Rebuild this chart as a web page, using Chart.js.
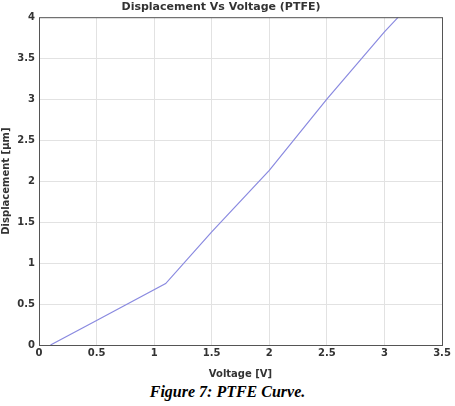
<!DOCTYPE html>
<html>
<head>
<meta charset="utf-8">
<script src="https://cdn.jsdelivr.net/npm/chart.js@4"></script>
<style>
  body { margin: 0; background: #fff; }
  #wrap { position: relative; width: 455px; height: 380px; }
  #caption {
    text-align: center; font-family: "Liberation Serif", serif;
    font-weight: bold; font-style: italic; font-size: 16px; color: #000;
    margin-top: 3px;
  }
</style>
</head>
<body>
<div id="wrap"><canvas id="myChart"></canvas></div>
<div id="caption">Figure 7: PTFE Curve.</div>
<script>
const voltage = [0.1, 0.5, 1.1, 1.5, 2.0, 2.5, 3.0, 3.12];
const displacement = [0, 0.3, 0.75, 1.38, 2.13, 3.0, 3.82, 4.0];
const xTicks = [0, 0.5, 1, 1.5, 2, 2.5, 3, 3.5];
const yTicks = [0, 0.5, 1, 1.5, 2, 2.5, 3, 3.5, 4];

const font = { family: '"DejaVu Sans", sans-serif', size: 10, weight: 'bold' };

// box round the plot area
const boxPlugin = {
  id: 'box',
  afterDraw(chart) {
    const a = chart.chartArea;
    const ctx = chart.ctx;
    ctx.save();
    ctx.strokeStyle = '#555';
    ctx.lineWidth = 1;
    ctx.strokeRect(a.left + 0.5, a.top + 0.5, a.right - a.left, a.bottom - a.top);
    ctx.restore();
  }
};

const ctx = document.getElementById('myChart').getContext('2d');
const chart = new Chart(ctx, {
  type: 'scatter',
  data: {
    datasets: [{
      data: voltage.map((v, i) => ({ x: v, y: displacement[i] })),
      showLine: true,
      borderColor: '#8a8ae0',
      borderWidth: 1.2,
      pointRadius: 0,
      tension: 0
    }]
  },
  options: {
    responsive: true,
    maintainAspectRatio: false,
    animation: false,
    layout: { padding: { left: 0, right: 13, top: 0, bottom: 0 } },
    plugins: {
      legend: { display: false },
      tooltip: { enabled: false },
      title: {
        display: true,
        text: 'Displacement Vs Voltage (PTFE)',
        color: '#333',
        font: { family: font.family, size: 11, weight: 'bold' },
        padding: { top: 1, bottom: 3 }
      }
    },
    scales: {
      x: {
        type: 'linear',
        min: 0, max: 3.5,
        afterBuildTicks: s => { s.ticks = xTicks.map(v => ({ value: v })); },
        afterFit: s => { s.height = 35; },
        ticks: { color: '#333', font: font, padding: 2, maxRotation: 0, callback: v => String(v) },
        grid: { color: '#e2e2e2', drawTicks: false },
        border: { display: false },
        title: { display: true, text: 'Voltage [V]', color: '#333', font: font, padding: 0 }
      },
      y: {
        type: 'linear',
        min: 0, max: 4,
        afterBuildTicks: s => { s.ticks = yTicks.map(v => ({ value: v })); },
        afterFit: s => { s.width = 39; },
        ticks: { color: '#333', font: font, padding: 4, callback: v => String(v) },
        grid: { color: '#e2e2e2', drawTicks: false },
        border: { display: false },
        title: { display: true, text: 'Displacement [\u00b5m]', color: '#333', font: font, padding: 0 }
      }
    }
  },
  plugins: [boxPlugin]
});
</script>
</body>
</html>
